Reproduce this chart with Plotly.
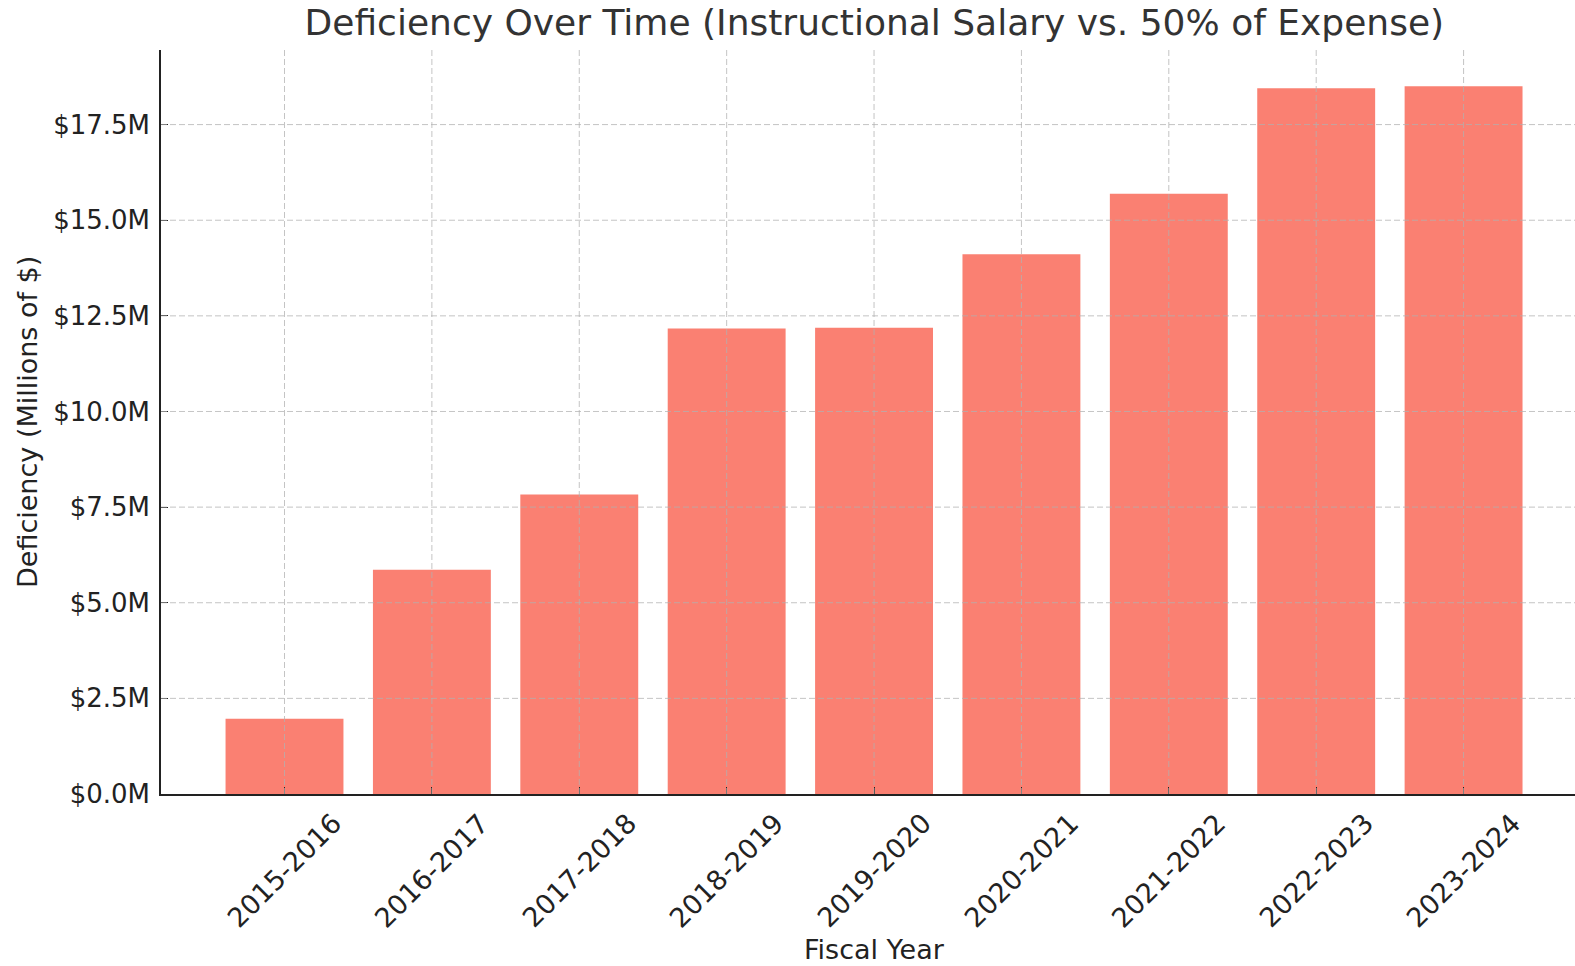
import plotly.graph_objects as go

categories = ["2015-2016", "2016-2017", "2017-2018", "2018-2019", "2019-2020",
              "2020-2021", "2021-2022", "2022-2023", "2023-2024"]
deficiency_m = [1.97, 5.86, 7.83, 12.17, 12.19, 14.11, 15.69, 18.45, 18.50]
y_ticks = [0.0, 2.5, 5.0, 7.5, 10.0, 12.5, 15.0, 17.5]
y_tick_labels = [f"${v:.1f}M" for v in y_ticks]

FONT = "DejaVu Sans"
TXT = "#222222"
GRID = "rgba(176,176,176,0.75)"

fig = go.Figure()
fig.add_trace(go.Bar(x=list(range(len(categories))), y=deficiency_m,
                     marker=dict(color="#FA8072", line=dict(width=0)),
                     width=0.8, showlegend=False))

shapes = []
for i in range(len(categories)):
    shapes.append(dict(type="line", xref="x", yref="paper", x0=i, x1=i, y0=0, y1=1,
                       line=dict(color=GRID, width=1, dash="6px,3px"), layer="above"))
for v in y_ticks[1:]:
    shapes.append(dict(type="line", xref="paper", yref="y", x0=0, x1=1, y0=v, y1=v,
                       line=dict(color=GRID, width=1, dash="6px,3px"), layer="above"))

annotations = []
for i, c in enumerate(categories):
    annotations.append(dict(x=i, y=0, xref="x", yref="paper", text=c, showarrow=False,
                            textangle=-45, xanchor="center", yanchor="top", yshift=-11,
                            font=dict(family=FONT, size=27, color=TXT)))
annotations.append(dict(x=4, y=0, xref="x", yref="paper", text="Fiscal Year",
                        showarrow=False, xanchor="center", yanchor="middle", yshift=-155,
                        font=dict(family=FONT, size=27, color=TXT)))
annotations.append(dict(x=0, y=0.5, xref="paper", yref="paper",
                        text="Deficiency (Millions of $)", showarrow=False, textangle=-90,
                        xanchor="center", yanchor="middle", xshift=-134,
                        font=dict(family=FONT, size=27, color=TXT)))

fig.update_layout(
    width=1575, height=966,
    margin=dict(l=161, r=0, t=50, b=172),
    paper_bgcolor="white", plot_bgcolor="white",
    title=dict(text="Deficiency Over Time (Instructional Salary vs. 50% of Expense)",
               x=0.5045, xref="paper", xanchor="center",
               y=1 - 22 / 966, yref="container", yanchor="middle",
               font=dict(family=FONT, size=36, color="#333333")),
    xaxis=dict(range=[-0.838, 8.756], tickvals=list(range(len(categories))),
               showticklabels=False, ticks="inside", ticklen=7, tickwidth=1.3,
               tickcolor=TXT, showline=True, linecolor=TXT, linewidth=1.6,
               showgrid=False, zeroline=False),
    yaxis=dict(range=[0, 19.45], tickvals=y_ticks, ticktext=y_tick_labels,
               ticks="inside", ticklen=7, tickwidth=1.3, ticklabelstandoff=4,
               tickcolor=TXT, showline=True, linecolor=TXT, linewidth=1.6,
               showgrid=False, zeroline=False,
               tickfont=dict(family=FONT, size=26, color=TXT)),
    shapes=shapes, annotations=annotations, bargap=0.2,
)

fig.write_html("out.html", config={"displayModeBar": False},
               post_script="document.body.style.margin='0';document.body.style.overflow='hidden';")
